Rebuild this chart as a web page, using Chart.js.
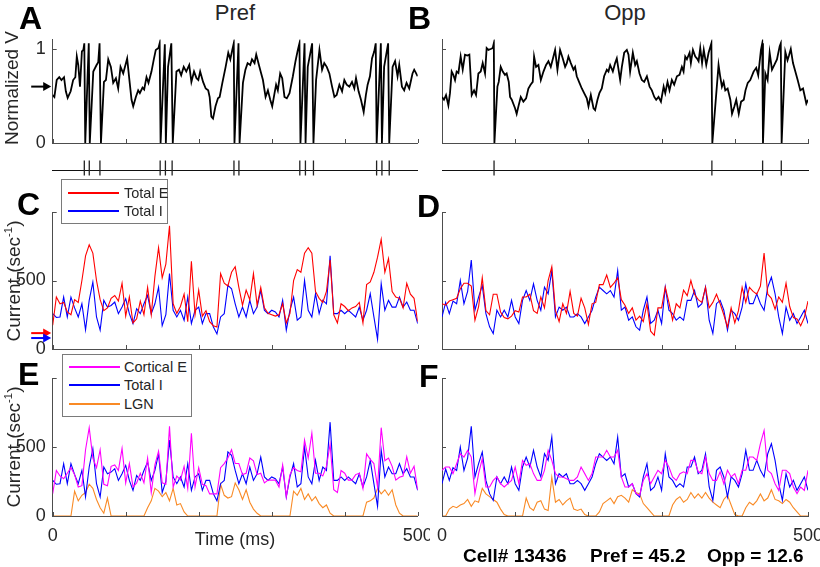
<!DOCTYPE html>
<html lang="en">
<head>
<meta charset="UTF-8">
<title>Pref / Opp voltage and currents</title>
<script src="https://cdn.jsdelivr.net/npm/chart.js"></script>
<style>
  body { margin: 0; background: #fff; }
  #fig { position: relative; width: 820px; height: 567px; overflow: hidden;
         font-family: "Liberation Sans", Arial, Helvetica, sans-serif; color: #262626; }
  #fig canvas { position: absolute; }
  .txt { position: absolute; white-space: nowrap; line-height: 1; }
  .letter { font-weight: bold; font-size: 32px; color: #000; }
  .title { font-size: 22px; transform: translateX(-50%); }
  .ylab { font-size: 19px; transform: translate(-50%, -50%) rotate(-90deg); }
  .ylab sup { font-size: 0.6em; }
  .foot { font-weight: bold; font-size: 19px; color: #000; }
  .legend { position: absolute; background: #fff; border: 1px solid #7a7a7a; }
  .legend .row { position: absolute; height: 18px; line-height: 18px; font-size: 14.5px; white-space: nowrap; }
  .legend .swatch { position: absolute; left: 0; top: 8px; width: 51px; height: 2px; }
  .legend .lab { position: absolute; top: 0; }
</style>
</head>
<body>
<div id="fig">
  <canvas id="cA" width="430" height="132" style="left:0;top:28px"></canvas>
  <canvas id="cB" width="400" height="132" style="left:420px;top:28px"></canvas>
  <canvas id="rA" width="430" height="40" style="left:0;top:150px"></canvas>
  <canvas id="rB" width="400" height="40" style="left:420px;top:150px"></canvas>
  <canvas id="cC" width="430" height="160" style="left:0;top:200px"></canvas>
  <canvas id="cD" width="400" height="160" style="left:420px;top:200px"></canvas>
  <canvas id="cE" width="430" height="184" style="left:0;top:366px"></canvas>
  <canvas id="cF" width="400" height="184" style="left:420px;top:366px"></canvas>

  <div class="txt letter" style="left:19px;top:2px">A</div>
  <div class="txt letter" style="left:408px;top:2px">B</div>
  <div class="txt letter" style="left:17px;top:188px">C</div>
  <div class="txt letter" style="left:417px;top:190px">D</div>
  <div class="txt letter" style="left:18px;top:358px">E</div>
  <div class="txt letter" style="left:419px;top:360px">F</div>

  <div class="txt title" style="left:235px;top:2px">Pref</div>
  <div class="txt title" style="left:625px;top:2px">Opp</div>

  <div class="txt ylab" style="left:11px;top:88px">Normalized V</div>
  <div class="txt ylab" style="left:13px;top:281px">Current (sec<sup>-1</sup>)</div>
  <div class="txt ylab" style="left:13px;top:447px">Current (sec<sup>-1</sup>)</div>

  <div class="txt" style="left:235px;top:530px;font-size:18px;transform:translateX(-50%)">Time (ms)</div>

  <div class="txt foot" style="left:463px;top:546px">Cell# 13436</div>
  <div class="txt foot" style="left:590px;top:546px">Pref = 45.2</div>
  <div class="txt foot" style="left:707px;top:546px">Opp = 12.6</div>

  <div class="legend" style="left:61px;top:179px;width:105px;height:43px">
    <div class="row" style="left:6px;top:4px"><div class="swatch" style="background:#ff0000"></div><span class="lab" style="left:56px">Total E</span></div>
    <div class="row" style="left:6px;top:22px"><div class="swatch" style="background:#0000ff"></div><span class="lab" style="left:56px">Total I</span></div>
  </div>
  <div class="legend" style="left:62px;top:354px;width:128px;height:61px">
    <div class="row" style="left:6px;top:3px"><div class="swatch" style="background:#ff00ff"></div><span class="lab" style="left:55px">Cortical E</span></div>
    <div class="row" style="left:6px;top:21px"><div class="swatch" style="background:#0000ff"></div><span class="lab" style="left:55px">Total I</span></div>
    <div class="row" style="left:6px;top:40px"><div class="swatch" style="background:#f98a25"></div><span class="lab" style="left:55px">LGN</span></div>
  </div>
</div>

<script>
// ---- data ----

// normalized membrane potential, Pref (panel A)
const prefVTimes = [0,2.3,5.5,9,12,15.5,18,20.5,24.6,28,
  31,33,35,37.4,40,42,43.3,44.6,49.4,50.8,
  55.6,60.1,62.4,64.2,66.1,70.2,72.9,76.1,79.7,82.9,
  86.6,89.7,92.9,96.6,102,104.8,108,110.3,113.9,117.1,
  119.4,123,125.3,128.5,131.2,135.3,138.5,141.2,144.9,146.5,
  147.8,153.6,155,158,162.5,164.5,169.5,173,176,179.5,
  183,187,190,193.6,197,199.5,202,206,209.6,213,
  215,217.3,219.6,223,226.4,228.7,232.4,236.9,240.5,243.3,
  246,248,249,254.5,256,260.6,264,267,270.6,273,
  276.5,278.8,282.5,285.6,288,291.6,294.8,298,300.7,303.9,
  306,308.4,311.6,314.4,317.5,320.7,324.4,329,332.6,335.8,
  338,339.4,345,346.4,349.4,355.4,357.2,360.8,365.4,369,
  372,375.4,379,382.7,385.9,389,392.7,396.4,399.5,402.7,
  406.4,410,413.2,415.5,419,422.3,426,429,431.4,434.6,
  437.4,440.5,442.5,443.8,449.5,451,454,459.5,461,465.6,
  469,472.4,474.7,478.4,481.5,484.7,488.4,492.9,495.2,500];
const prefV = [0.51,0.49,0.67,0.70,0.67,0.70,0.55,0.48,0.55,0.67,
  0.70,0.92,0.83,0.60,0.975,0.99,1.06,0,1.06,0,
  0.76,0.83,0.86,1.06,0,0.65,0.67,0.89,0.81,0.64,
  0.69,0.58,0.81,0.74,0.90,0.69,0.46,0.39,0.49,0.56,
  0.53,0.59,0.57,0.70,0.64,0.76,0.89,0.99,1.01,1.06,
  0,1.05,0,0.81,1.06,0,0.76,0.78,0.72,0.81,
  0.76,0.83,0.65,0.76,0.69,0.67,0.76,0.65,0.58,0.56,
  0.49,0.28,0.26,0.39,0.475,0.49,0.64,0.81,0.96,0.89,
  0.99,1.06,0,1.06,0,0.64,0.78,0.85,0.83,0.89,
  0.85,0.94,0.83,0.74,0.67,0.49,0.56,0.46,0.39,0.53,
  0.62,0.56,0.74,0.69,0.49,0.475,0.53,0.71,0.87,0.99,
  1.06,0,1.06,0,0.81,1.06,0,0.67,0.99,0.78,
  0.85,0.81,0.74,0.60,0.49,0.51,0.62,0.55,0.67,0.62,
  0.60,0.65,0.58,0.69,0.55,0.46,0.33,0.51,0.62,0.71,
  0.90,0.975,1.06,0,1.06,0,0.81,1.06,0,0.81,
  0.87,0.71,0.83,0.60,0.56,0.64,0.58,0.74,0.78,0.71];

// normalized membrane potential, Opp (panel B)
const oppVTimes = [0,2.7,5.5,8.7,10.9,13.2,15.5,17.8,20,22.4,
  25.5,28.3,31.4,34.6,37.4,40.6,43.8,46.5,49.7,52.9,
  55.6,58.8,61,63.4,66.5,69.3,70.8,71.6,75.7,77.5,
  80.2,83,86,88.3,91.2,93,95.3,99.8,102,104.4,
  107.6,111.2,114.9,118,121,124,125.8,128.5,131.7,135,
  138.6,142.2,145.4,148.6,151.3,154.5,157.7,161.3,165,168.2,
  170.5,172.7,176,179.6,181.8,184.1,187.8,191,194.2,197.8,
  200.1,203.3,207,209.2,212.4,215,218.3,221.5,225.2,227.4,
  229.7,233.4,236.5,238.8,243.4,245.7,248.9,252.5,254.8,257,
  260.7,263.9,266.2,269.8,273,276.2,279.9,283.6,286.7,290,
  292.6,295.8,299.1,302.8,305,308.1,310.8,314,317.2,320.9,
  324.5,327.7,330,332.3,334.6,338.2,340,342.8,346,348.2,
  350.5,352.8,355.3,357.6,361,364.2,368,369.3,377.8,380,
  382.4,384.7,387,390.2,393.9,396.2,399.5,402,405.4,408.6,
  412.3,414.6,417.7,421.1,425.7,429.3,432,435.7,437.5,438.5,
  441.7,444.8,447.6,450.8,454,457.6,461.3,462.8,464,469,
  472,474,476.5,479.5,482.7,485.9,489.5,493.2,497.7,500];
const oppV = [0.49,0.46,0.51,0.40,0.53,0.76,0.725,0.67,0.76,0.745,
  0.92,0.78,0.94,0.93,0.94,0.51,0.56,0.51,0.74,0.76,
  0.85,0.74,1.01,0.99,1.0,1.01,1.06,0,0.60,0.65,
  0.81,0.76,0.725,0.74,0.65,0.49,0.46,0.37,0.31,0.39,
  0.49,0.44,0.475,0.58,0.62,0.65,0.92,0.81,0.83,0.67,
  0.76,0.83,0.87,0.81,0.89,0.99,0.78,0.99,0.90,0.81,
  0.85,0.92,0.85,0.78,0.81,0.71,0.64,0.58,0.53,0.475,
  0.39,0.51,0.37,0.35,0.46,0.53,0.58,0.71,0.78,0.76,
  0.83,0.76,0.85,0.90,0.67,0.81,0.96,0.99,0.94,0.76,
  0.96,0.83,0.87,0.74,0.67,0.65,0.71,0.60,0.56,0.49,
  0.46,0.49,0.44,0.60,0.53,0.65,0.56,0.67,0.62,0.71,
  0.725,0.81,0.76,0.92,0.89,0.96,0.85,0.99,0.92,0.90,
  0.87,1.01,0.85,0.99,0.83,0.96,1.06,0,0.83,0.71,
  0.60,0.65,0.56,0.58,0.46,0.31,0.39,0.46,0.31,0.44,
  0.46,0.56,0.64,0.67,0.76,0.80,0.72,0.99,1.06,0,
  0.74,0.67,0.96,0.78,0.83,0.89,1.03,1.06,0,0.97,
  0.88,0.93,1.0,0.85,0.76,0.67,0.56,0.58,0.42,0.46];

// spike times (ms) for the rasters under A and B
const prefSpikes = [43.3,50.1,64.7,147.2,154.4,163.6,248.3,255.1,338.5,346.2,357.2,443.7,451.0,461.0];
const oppSpikes = [71.1,368.7,438.0,463.5];

// arrow markers at the left of A and C
const vArrow = 0.6;
const eArrow = 116;
const iArrow = 80;

// currents (sec^-1), sampled every 5 ms from 0 to 500 ms
const sampleStep = 5;
const prefTotalE = [174,380,330,340,270,250,360,340,500,680,
  760,700,500,360,280,300,370,390,350,480,
  240,380,190,220,350,250,450,250,530,740,
  520,620,900,330,260,310,400,200,640,250,
  430,240,280,200,170,160,550,480,460,560,
  600,450,320,430,360,550,320,450,300,260,
  250,240,250,330,190,260,500,580,560,700,
  740,700,420,370,340,420,650,250,190,330,
  310,280,300,310,340,190,470,490,560,670,
  800,560,660,420,380,370,300,480,400,370,
  200];
const prefTotalI = [258,230,234,379,234,379,300,234,330,140,
  355,488,234,138,355,306,318,343,258,306,
  367,258,186,294,258,330,391,258,330,451,
  170,250,550,283,234,283,210,379,186,283,
  306,186,258,258,162,110,234,258,464,440,
  330,234,306,234,355,258,306,427,283,258,
  283,270,234,355,138,283,379,210,234,500,
  283,234,403,258,355,330,680,258,258,283,
  258,283,258,234,306,210,283,403,234,70,
  476,283,355,306,306,379,306,343,283,283,
  186];
const prefCorticalE = [162,330,290,270,310,350,300,210,220,480,
  640,420,350,480,230,220,360,370,330,490,
  240,380,210,240,310,240,420,170,370,470,
  240,230,650,210,290,260,360,200,600,210,
  350,230,220,160,160,160,350,380,420,480,
  380,380,300,310,420,400,300,310,240,260,
  260,260,210,370,140,300,350,330,320,550,
  420,600,310,310,290,360,520,190,170,330,
  310,260,260,300,310,200,450,410,380,210,
  640,400,420,360,260,280,290,430,310,360,
  190];
const prefLGN = [0,0,0,0,0,0,180,110,150,170,
  230,200,120,60,20,130,0,0,0,0,
  0,0,0,0,0,0,60,110,200,180,
  140,170,110,200,80,90,30,0,0,0,
  0,0,0,0,0,0,230,150,130,140,
  240,190,120,190,100,50,20,0,0,0,
  0,0,0,0,0,0,180,150,200,120,
  160,110,140,90,60,80,20,0,0,0,
  0,0,0,0,0,0,100,110,130,200,
  160,190,150,190,80,20,0,0,0,0,
  0];

const oppTotalE = [331,320,350,360,370,440,480,480,460,210,
  310,520,280,250,400,400,270,230,220,240,
  280,270,380,380,400,280,260,380,300,500,
  600,280,200,330,260,420,260,240,370,300,
  180,330,340,470,470,540,450,480,520,360,
  320,260,300,210,240,200,330,130,100,300,
  300,451,340,210,330,300,430,390,500,400,
  360,340,450,300,340,400,330,250,160,300,
  190,280,450,340,450,420,400,460,700,400,
  370,290,380,340,480,310,230,220,170,230,
  350];
const oppTotalI = [234,340,258,350,330,500,330,420,650,283,
  379,464,258,162,113,283,234,283,234,355,
  234,186,355,427,355,476,355,283,451,403,
  572,234,306,283,306,234,234,258,234,186,
  234,283,379,451,427,403,427,379,572,283,
  306,210,234,162,138,283,379,186,210,283,
  186,451,283,258,210,234,210,355,355,427,
  306,331,451,210,113,331,355,283,138,283,
  258,210,306,476,331,331,403,331,283,451,
  524,403,234,113,306,210,258,186,234,283,
  186];
const oppCorticalE = [331,355,355,307,379,451,427,476,427,162,
  307,415,210,210,258,283,234,210,234,258,
  355,234,403,367,379,307,258,258,331,476,
  403,307,283,283,270,258,258,283,355,307,
  258,307,427,427,427,476,427,427,476,283,
  210,210,234,162,150,258,307,234,283,331,
  307,403,355,283,258,307,320,307,403,403,
  320,307,427,307,258,258,320,234,331,283,
  307,234,331,331,427,427,403,524,620,331,
  307,234,186,331,331,307,210,162,210,186,
  331];
const oppLGN = [0,0,50,70,60,80,90,120,70,110,
  100,200,160,140,120,100,50,10,0,0,
  0,0,0,130,60,40,100,110,50,40,
  280,100,120,80,110,130,50,40,50,10,
  0,0,0,30,90,110,130,90,140,150,
  130,100,190,170,160,90,60,30,0,0,
  0,0,0,80,120,140,100,120,170,130,
  160,130,170,130,100,80,60,120,150,80,
  10,0,0,60,100,80,110,160,110,130,
  190,120,110,90,120,100,60,30,0,0,
  0];

// axis ticks and labels
const timeTicks = [0, 100, 200, 300, 400, 500];
const timeTickLabels = ['0', '', '', '', '', '500'];
const vTicks = [0, 1];
const vTickLabels = ['0', '1'];
const currentTicks = [0, 500, 1000];
const currentTickLabels = ['0', '500', ''];

// ---- drawing ----
const axisColor = '#4d4d4d';
const RED = '#ff0000', BLUE = '#0000ff', MAGENTA = '#ff00ff', ORANGE = '#f98a25';

Chart.defaults.font.family = '"Liberation Sans", Arial, Helvetica, sans-serif';
Chart.defaults.color = '#262626';

const sampleTimes = prefTotalE.map((_, i) => i * sampleStep);

// matlab style ticks pointing into the plot
const inwardTicks = {
  id: 'inwardTicks',
  afterDraw(chart) {
    const {ctx, chartArea: a, scales: {x, y}} = chart;
    ctx.save();
    ctx.strokeStyle = axisColor;
    ctx.lineWidth = 1;
    ctx.beginPath();
    x.ticks.forEach(t => {
      const px = Math.round(x.getPixelForValue(t.value)) + 0.5;
      ctx.moveTo(px, a.bottom);
      ctx.lineTo(px, a.bottom - 4);
    });
    y.ticks.forEach(t => {
      const py = Math.round(y.getPixelForValue(t.value)) + 0.5;
      ctx.moveTo(a.left, py);
      ctx.lineTo(a.left + 4, py);
    });
    ctx.stroke();
    ctx.restore();
  }
};

// little arrows left of the y axis
const sideArrows = {
  id: 'sideArrows',
  afterDraw(chart, args, opts) {
    const vals = opts.values || [];
    const cols = opts.colors || [];
    const {ctx, chartArea: a, scales: {y}} = chart;
    vals.forEach((v, i) => {
      const py = y.getPixelForValue(v);
      const tip = a.left - 1.5;
      ctx.save();
      ctx.strokeStyle = cols[i];
      ctx.fillStyle = cols[i];
      ctx.lineWidth = 2;
      ctx.beginPath();
      ctx.moveTo(tip - 20, py);
      ctx.lineTo(tip - 7, py);
      ctx.stroke();
      ctx.beginPath();
      ctx.moveTo(tip, py);
      ctx.lineTo(tip - 8, py - 4.5);
      ctx.lineTo(tip - 8, py + 4.5);
      ctx.closePath();
      ctx.fill();
      ctx.restore();
    });
  }
};

const rows = {
  v:   {padTop: 11.6, xH: 17, min: 0, max: 1.1, ticks: vTicks, labels: vTickLabels},
  cur: {padTop: 12, xH: 11, min: 0, max: 1000, ticks: currentTicks, labels: currentTickLabels},
  bot: {padTop: 12, xH: 34, min: 0, max: 1000, ticks: currentTicks, labels: currentTickLabels}
};
const sides = {
  left:  {yW: 52.7, padRight: 12.3, yLabels: true},
  right: {yW: 22, padRight: 12, yLabels: false}
};

function toPoints(times, vals) {
  return vals.map((v, i) => ({x: times[i], y: v}));
}

function tracePanel(id, side, row, series, showTimeLabels, arrows) {
  const s = sides[side], r = rows[row];
  return new Chart(document.getElementById(id), {
    type: 'line',
    data: {
      datasets: series.map(d => ({
        data: toPoints(d.t, d.v),
        borderColor: d.color,
        borderWidth: d.width,
        pointRadius: 0,
        tension: 0,
        fill: false
      }))
    },
    options: {
      responsive: false,
      animation: false,
      events: [],
      layout: {padding: {left: 0, right: s.padRight, top: r.padTop, bottom: 0}},
      plugins: {
        legend: {display: false},
        tooltip: {enabled: false},
        sideArrows: arrows || {values: [], colors: []}
      },
      scales: {
        x: {
          type: 'linear', min: 0, max: 500,
          afterBuildTicks: sc => { sc.ticks = timeTicks.map(v => ({value: v})); },
          afterFit: sc => { sc.height = r.xH; sc.paddingLeft = 0; sc.paddingRight = 0; },
          grid: {display: false, drawTicks: false},
          border: {color: axisColor, width: 1},
          ticks: {display: showTimeLabels, autoSkip: false, maxRotation: 0, padding: 9,
                  font: {size: 18}, callback: (v, i) => timeTickLabels[i]}
        },
        y: {
          type: 'linear', min: r.min, max: r.max,
          afterBuildTicks: sc => { sc.ticks = r.ticks.map(v => ({value: v})); },
          afterFit: sc => { sc.width = s.yW; sc.paddingTop = 0; sc.paddingBottom = 0; },
          grid: {display: false, drawTicks: false},
          border: {color: axisColor, width: 1},
          ticks: {display: s.yLabels, padding: 7, font: {size: 18},
                  callback: (v, i) => r.labels[i]}
        }
      }
    },
    plugins: [inwardTicks, sideArrows]
  });
}

function rasterPanel(id, side, spikes) {
  const s = sides[side];
  return new Chart(document.getElementById(id), {
    type: 'line',
    data: {
      datasets: [{
        data: spikes.map(t => ({x: t, y: 0.17})),
        showLine: false,
        pointStyle: 'line',
        rotation: 90,
        pointRadius: 7.5,
        borderColor: '#222',
        borderWidth: 1.3
      }]
    },
    options: {
      responsive: false,
      animation: false,
      events: [],
      layout: {padding: {left: s.yW, right: s.padRight, top: 6, bottom: 4}},
      plugins: {legend: {display: false}, tooltip: {enabled: false}},
      scales: {
        x: {
          type: 'linear', min: 0, max: 500, position: {y: 0},
          afterFit: sc => { sc.height = 0; sc.paddingLeft = 0; sc.paddingRight = 0; },
          grid: {display: false, drawTicks: false},
          border: {color: '#111', width: 1},
          ticks: {display: false}
        },
        y: {type: 'linear', min: -1, max: 1, display: false}
      }
    }
  });
}

tracePanel('cA', 'left', 'v', [{t: prefVTimes, v: prefV, color: '#000', width: 1.8}], false,
  {values: [vArrow], colors: ['#000']});
tracePanel('cB', 'right', 'v', [{t: oppVTimes, v: oppV, color: '#000', width: 1.8}], false);

rasterPanel('rA', 'left', prefSpikes);
rasterPanel('rB', 'right', oppSpikes);

tracePanel('cC', 'left', 'cur', [
  {t: sampleTimes, v: prefTotalE, color: RED, width: 1.1},
  {t: sampleTimes, v: prefTotalI, color: BLUE, width: 1.1}
], false, {values: [eArrow, iArrow], colors: [RED, BLUE]});
tracePanel('cD', 'right', 'cur', [
  {t: sampleTimes, v: oppTotalE, color: RED, width: 1.1},
  {t: sampleTimes, v: oppTotalI, color: BLUE, width: 1.1}
], false);

tracePanel('cE', 'left', 'bot', [
  {t: sampleTimes, v: prefCorticalE, color: MAGENTA, width: 1.1},
  {t: sampleTimes, v: prefTotalI, color: BLUE, width: 1.1},
  {t: sampleTimes, v: prefLGN, color: ORANGE, width: 1.1}
], true);
tracePanel('cF', 'right', 'bot', [
  {t: sampleTimes, v: oppCorticalE, color: MAGENTA, width: 1.1},
  {t: sampleTimes, v: oppTotalI, color: BLUE, width: 1.1},
  {t: sampleTimes, v: oppLGN, color: ORANGE, width: 1.1}
], true);
</script>
</body>
</html>
